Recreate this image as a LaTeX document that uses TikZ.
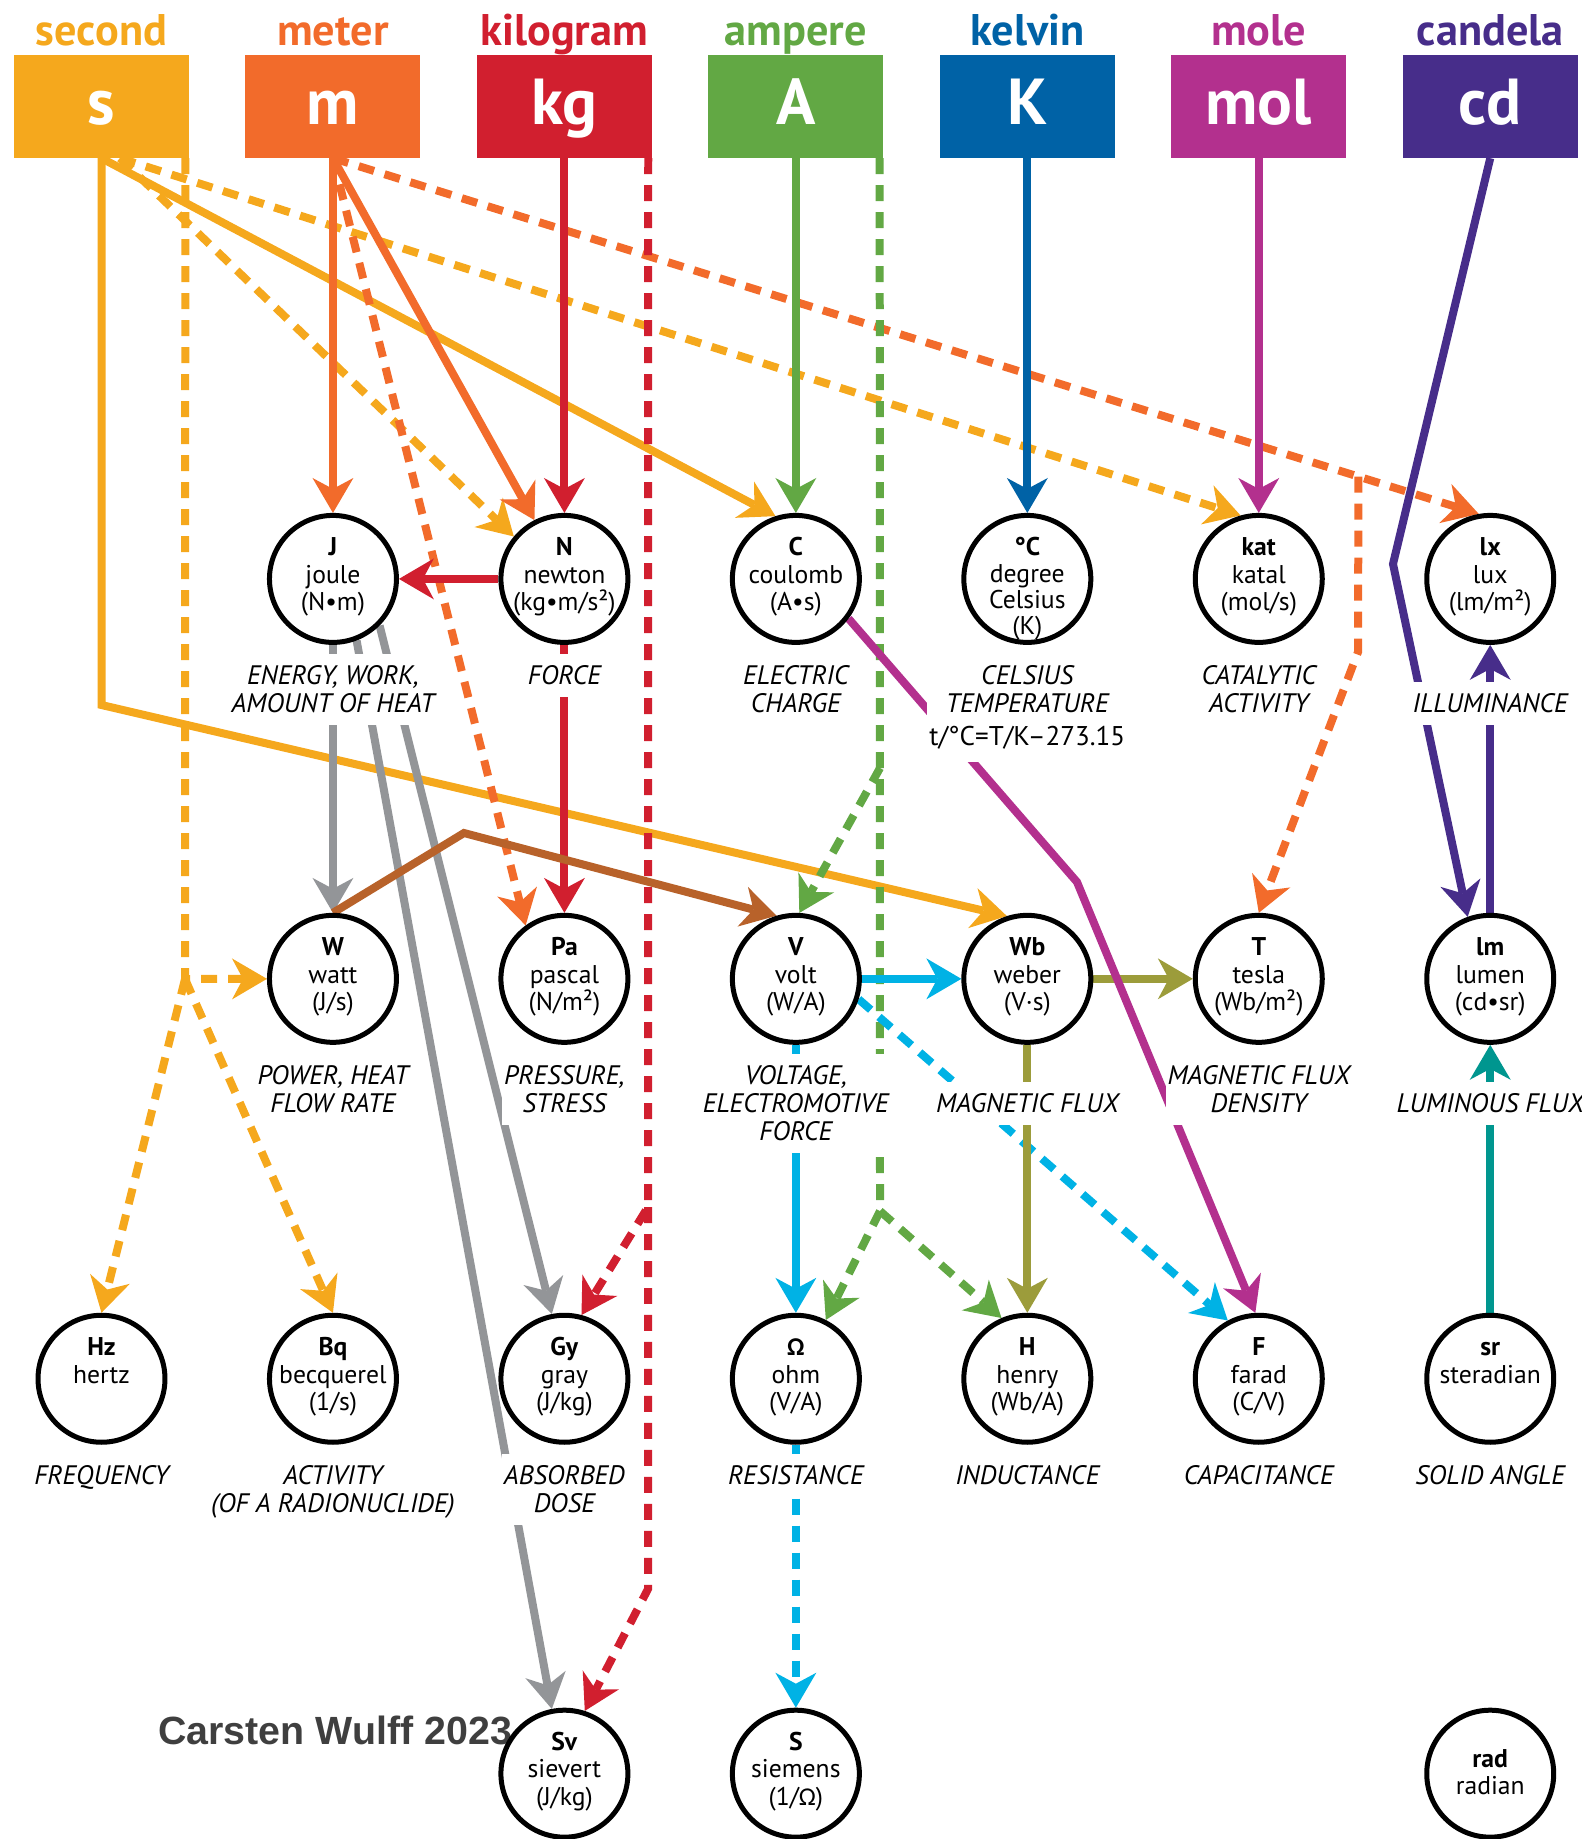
\documentclass[tikz,border=0pt]{standalone}
\usepackage{fontspec}
\setmainfont{PT Sans}
\newfontfamily\creditfont{Liberation Sans}
\newfontfamily\omfont{Carlito}
\usetikzlibrary{positioning}
\usetikzlibrary{arrows.meta}
\usetikzlibrary{backgrounds}
\usetikzlibrary{calc}

\definecolor{csec}{HTML}{F5A81D}
\definecolor{cmet}{HTML}{F26B2B}
\definecolor{ckg}{HTML}{D11F2F}
\definecolor{camp}{HTML}{62A844}
\definecolor{ckel}{HTML}{0062A6}
\definecolor{cmol}{HTML}{B3308E}
\definecolor{ccd}{HTML}{472D8A}
\definecolor{cgray}{HTML}{939598}
\definecolor{cbrown}{HTML}{B8622A}
\definecolor{ccyan}{HTML}{00B2E5}
\definecolor{colive}{HTML}{9C9C3B}
\definecolor{cteal}{HTML}{00968F}
\definecolor{ccredit}{HTML}{3F3F3F}

\newcommand{\utext}[2][0.46cm]{\makebox[0pt]{\raisebox{#1}[0pt][0pt]{\begin{minipage}[t]{2.6cm}\centering #2\end{minipage}}}}

\begin{document}
\begin{tikzpicture}
		[x=0.02cm, y=-0.02cm, node distance=8cm and 4.63cm, on grid, label distance=0.18cm,
		basebox/.style={fill=#1, text=white, minimum width=3.5cm, minimum height=2.05cm, inner sep=0pt,
			text height=0.86cm, text depth=0.16cm, font=\fontsize{37}{37}\selectfont\bfseries},
		basename/.style={inner sep=0pt, text depth=0pt, font=\fontsize{25.2}{26}\selectfont\bfseries},
		derived/.style={circle, draw, line width=0.1cm, fill=white, minimum size=2.54cm, inner sep=0pt,
			font=\fontsize{14.6}{15.5}\selectfont},
		quantity/.style={fill=white, align=center, inner xsep=0.04cm, inner ysep=0.24cm, outer sep=0pt,
			font=\fontsize{15.2}{15.9}\selectfont\itshape},
		link/.style={line width=0.16cm, -{Stealth[length=0.7cm, width=0.82cm, inset=0.22cm, line width=0pt]}},
		dashlink/.style={link, dash pattern=on 0.32cm off 0.22cm},
		credit/.style={inner sep=0pt, text=ccredit, font=\creditfont\bfseries\fontsize{22.4}{24}\selectfont}]
		\useasboundingbox (0,0) rectangle (1582,1839);

		\node[basebox=csec, label={[basename, text=csec]above:second}] (s) at (101.5,106.6) {s};
		\node[basebox=cmet, label={[basename, text=cmet]above:meter}, right=of s] (m) {m};
		\node[basebox=ckg, label={[basename, text=ckg]above:kilogram}, right=of m] (kg) {kg};
		\node[basebox=camp, label={[basename, text=camp]above:ampere}, right=of kg] (A) {A};
		\node[basebox=ckel, label={[basename, text=ckel]above:kelvin}, right=of A] (K) {K};
		\node[basebox=cmol, label={[basename, text=cmol]above:mole}, right=of K] (mol) {mol};
		\node[basebox=ccd, label={[basename, text=ccd]above:candela}, right=of mol] (cd) {cd};

		\node[derived, below=9.448cm of m, label={[quantity]below:ENERGY, WORK,\\AMOUNT OF HEAT}] (J) {\utext{\textbf{J}\\joule\\(N•m)}};
		\node[derived, right=of J, label={[quantity]below:FORCE}] (N) {\utext{\textbf{N}\\newton\\(kg•m/s²)}};
		\node[derived, right=of N, label={[quantity]below:ELECTRIC\\CHARGE}] (C) {\utext{\textbf{C}\\coulomb\\(A•s)}};
		\node[derived, right=of C, label={[quantity]below:CELSIUS\\TEMPERATURE\\[0.1cm]{\upshape\fontsize{15.4}{17}\selectfont t/°C=T/K–273.15}}] (degC) {\utext{\fontsize{14.6}{14.9}\selectfont\textbf{°C}\\degree\\Celsius\\(K)}};
		\node[derived, right=of degC, label={[quantity]below:CATALYTIC\\ACTIVITY}] (kat) {\utext{\textbf{kat}\\katal\\(mol/s)}};
		\node[derived, right=of kat, label={[quantity, yshift=-0.56cm]below:ILLUMINANCE}] (lx) {\utext{\textbf{lx}\\lux\\(lm/m²)}};

		\node[derived, below=of J, label={[quantity]below:POWER, HEAT\\FLOW RATE}] (W) {\utext{\textbf{W}\\watt\\(J/s)}};
		\node[derived, right=of W, label={[quantity]below:PRESSURE,\\STRESS}] (Pa) {\utext{\textbf{Pa}\\pascal\\(N/m²)}};
		\node[derived, right=of Pa, label={[quantity]below:VOLTAGE,\\ELECTROMOTIVE\\FORCE}] (V) {\utext{\textbf{V}\\volt\\(W/A)}};
		\node[derived, right=of V, label={[quantity, yshift=-0.56cm]below:MAGNETIC FLUX}] (Wb) {\utext{\textbf{Wb}\\weber\\(V·s)}};
		\node[derived, right=of Wb, label={[quantity]below:MAGNETIC FLUX\\DENSITY}] (T) {\utext{\textbf{T}\\tesla\\(Wb/m²)}};
		\node[derived, right=of T, label={[quantity, yshift=-0.56cm]below:LUMINOUS FLUX}] (lm) {\utext{\textbf{lm}\\lumen\\(cd•sr)}};

		\node[derived, below left=of W, label={[quantity]below:FREQUENCY}] (Hz) {\utext{\textbf{Hz}\\hertz}};
		\node[derived, below=of W, label={[quantity]below:ACTIVITY\\(OF A RADIONUCLIDE)}] (Bq) {\utext{\textbf{Bq}\\becquerel\\(1/s)}};
		\node[derived, below=of Pa, label={[quantity]below:ABSORBED\\DOSE}] (Gy) {\utext{\textbf{Gy}\\gray\\(J/kg)}};
		\node[derived, below=of V, label={[quantity]below:RESISTANCE}] (Omega) {\utext{\textbf{\omfont Ω}\\ohm\\(V/A)}};
		\node[derived, below=of Wb, label={[quantity]below:INDUCTANCE}] (H) {\utext{\textbf{H}\\henry\\(Wb/A)}};
		\node[derived, below=of T, label={[quantity]below:CAPACITANCE}] (F) {\utext{\textbf{F}\\farad\\(C/V)}};
		\node[derived, below=of lm, label={[quantity]below:SOLID ANGLE}] (sr) {\utext{\textbf{sr}\\steradian}};

		\node[credit, anchor=base west] (wulff) at (158,1744) {Carsten Wulff 2023};
		\node[derived, below=7.9cm of Gy] (Sv) {\utext{\textbf{Sv}\\sievert\\(J/kg)}};
		\node[derived, below=7.9cm of Omega] (S) {\utext{\textbf{S}\\siemens\\(1/{\omfont Ω})}};
		\node[derived, below=7.9cm of sr] (rad) {\utext[0.12cm]{\textbf{rad}\\radian}};

		\coordinate (sb) at (101.5,705);
		\coordinate (sd) at ([xshift=0.37cm]s.south);
		\coordinate (st) at ([xshift=-0.08cm]s.south east);
		\coordinate (sj) at (185,979);
		\coordinate (mt) at ($(m.south)!0.895!(lx.100)$);
		\coordinate (mtb) at (1358,652);
		\coordinate (kgt) at ([xshift=-0.08cm]kg.south east);
		\coordinate (kgj) at (648,1207);
		\coordinate (kgb) at (648,1589);
		\coordinate (at) at ([xshift=-0.08cm]A.south east);
		\coordinate (aj) at (880,768);
		\coordinate (ab) at (880,1211);
		\coordinate (cdb) at (1393,564);
		\coordinate (wv) at (464,833);
		\coordinate (cf) at (1077,882);

		\begin{scope}[on background layer]
			\draw[link, csec] (s.south) -- (sb) -- (Wb.108);
			\draw[link, csec] (s.south) -- (C.108);
			\draw[dashlink, csec] (sd) -- (kat.106);
			\draw[dashlink, csec] (sd) -- (N.140);
			\draw[dashlink, csec] (st) -- (sj) -- (W.west);
			\draw[dashlink, csec] (sj) -- (Hz.north);
			\draw[dashlink, csec] (sj) -- (Bq.north);

			\draw[link, cmet] (m) -- (J);
			\draw[link, cmet] (m.south) -- (N.117);
			\draw[dashlink, cmet] (m.south) -- (Pa.126);
			\draw[dashlink, cmet] (m.south) -- (mt) -- (lx.100);
			\draw[dashlink, cmet] (mt) -- (mtb) -- (T.north);

			\draw[link, ckg] (kg) -- (N);
			\draw[dashlink, ckg] (kgt) -- (kgj) -- (Gy.75);
			\draw[dashlink, ckg] (kgj) -- (kgb) -- (Sv.72);
			\draw[link, ckg] (N) -- (J);
			\draw[link, ckg] (N) -- (Pa);

			\draw[link, camp] (A) -- (C);
			\draw[dashlink, camp] (at) -- (ab) -- (Omega.63);
			\draw[dashlink, camp] (aj) -- (V.87);
			\draw[dashlink, camp] (ab) -- (H.113);

			\draw[link, ckel] (K) -- (degC);
			\draw[link, cmol] (mol) -- (kat);
			\draw[link, ccd] (cd.south) -- (cdb) -- (lm.110);
			\draw[link, ccd] (lm) -- (lx);
			\draw[link, cteal] (sr) -- (lm);

			\draw[link, cgray] (J) -- (W);
			\draw[link, cgray] (J.315) -- (Gy.101);
			\draw[link, cgray] (J.291) -- (Sv.101);
			\draw[link, cbrown] (W.north) -- (wv) -- (V.107);

			\draw[link, ccyan] (V) -- (Wb);
			\draw[link, ccyan] (V) -- (Omega);
			\draw[dashlink, ccyan] (V.342) -- (F.118);
			\draw[dashlink, ccyan] (Omega) -- (S);
			\draw[link, colive] (Wb) -- (T);
			\draw[link, colive] (Wb) -- (H);
			\draw[link, cmol] (C.323) -- (cf) -- (F.93);
		\end{scope}
	\end{tikzpicture}
\end{document}
